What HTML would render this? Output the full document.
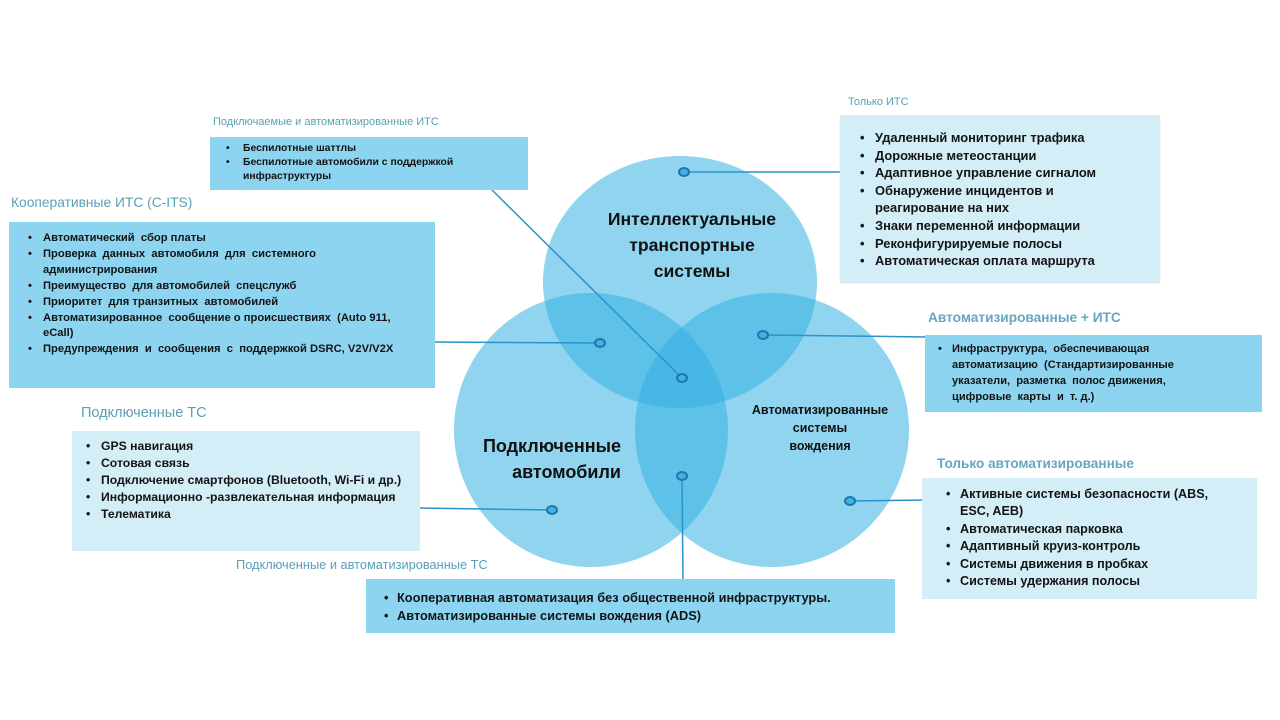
<!DOCTYPE html>
<html><head><meta charset="utf-8">
<style>
html,body{margin:0;padding:0;background:#fff;}
body{width:1280px;height:720px;position:relative;overflow:hidden;font-family:"Liberation Sans","Noto Sans CJK SC",sans-serif;color:#111;}
.box{position:absolute;}
.dark{background:#8dd4f0;}
.light{background:#d4eef8;}
.list{position:absolute;font-weight:bold;color:#141414;}
.li{position:relative;white-space:nowrap;}
.b{position:absolute;left:0;}
.t{position:absolute;white-space:nowrap;color:#5a9fb6;}
.lbl{position:absolute;font-weight:bold;color:#111;white-space:nowrap;}
svg{position:absolute;left:0;top:0;}
</style></head><body>
<svg width="1280" height="720">
  <g fill="rgb(53,177,226)" fill-opacity="0.55">
    <ellipse cx="680" cy="282" rx="137" ry="126"/>
    <circle cx="591" cy="430" r="137"/>
    <circle cx="772" cy="430" r="137"/>
  </g>
  <g stroke="#2a93c9" stroke-width="1.5" fill="none">
    <line x1="684" y1="172" x2="842" y2="172"/>
    <line x1="600" y1="343" x2="433" y2="342"/>
    <line x1="682" y1="378" x2="492" y2="190"/>
    <line x1="763" y1="335" x2="927" y2="337"/>
    <line x1="682" y1="476" x2="683" y2="580"/>
    <line x1="552" y1="510" x2="418" y2="508"/>
    <line x1="850" y1="501" x2="924" y2="500"/>
  </g>
  <g fill="#45b0e2" stroke="#1b78ad" stroke-width="2">
    <ellipse cx="684" cy="172" rx="5" ry="4"/>
    <ellipse cx="600" cy="343" rx="5" ry="4"/>
    <ellipse cx="682" cy="378" rx="5" ry="4"/>
    <ellipse cx="763" cy="335" rx="5" ry="4"/>
    <ellipse cx="682" cy="476" rx="5" ry="4"/>
    <ellipse cx="552" cy="510" rx="5" ry="4"/>
    <ellipse cx="850" cy="501" rx="5" ry="4"/>
  </g>
</svg>

<!-- boxes -->
<div class="box dark" style="left:210px;top:137px;width:318px;height:53px;"></div>
<div class="box dark" style="left:9px;top:222px;width:426px;height:166px;"></div>
<div class="box light" style="left:840px;top:115px;width:320px;height:167px;box-shadow:0 1px 1px #c9dbe2;"></div>
<div class="box dark" style="left:925px;top:335px;width:337px;height:77px;"></div>
<div class="box light" style="left:72px;top:431px;width:348px;height:120px;"></div>
<div class="box light" style="left:922px;top:478px;width:335px;height:121px;"></div>
<div class="box dark" style="left:366px;top:579px;width:529px;height:54px;"></div>

<!-- titles -->
<div class="t" style="left:213px;top:116px;font-size:11px;">Подключаемые и автоматизированные ИТС</div>
<div class="t" style="left:11px;top:195px;font-size:13.8px;">Кооперативные ИТС (C-ITS)</div>
<div class="t" style="left:848px;top:96px;font-size:11px;">Только ИТС</div>
<div class="t" style="left:928px;top:310px;font-size:13.7px;font-weight:bold;color:#66a6c0;">Автоматизированные + ИТС</div>
<div class="t" style="left:81px;top:405px;font-size:14.5px;">Подключенные ТС</div>
<div class="t" style="left:937px;top:456px;font-size:13.6px;font-weight:bold;color:#66a6c0;">Только автоматизированные</div>
<div class="t" style="left:236px;top:557px;font-size:12.8px;">Подключенные и автоматизированные ТС</div>

<!-- lists -->
<div class="list" style="left:226px;top:142px;font-size:10.4px;line-height:14px;">
  <div class="li" style="padding-left:17px"><span class="b">•</span>Беспилотные шаттлы</div>
  <div class="li" style="padding-left:17px"><span class="b">•</span>Беспилотные автомобили с поддержкой<br>инфраструктуры</div>
</div>

<div class="list" style="left:28px;top:231px;font-size:11.2px;line-height:15.9px;">
  <div class="li" style="padding-left:15px"><span class="b">•</span>Автоматический&nbsp; сбор платы</div>
  <div class="li" style="padding-left:15px"><span class="b">•</span>Проверка&nbsp; данных&nbsp; автомобиля&nbsp; для&nbsp; системного<br>администрирования</div>
  <div class="li" style="padding-left:15px"><span class="b">•</span>Преимущество&nbsp; для автомобилей&nbsp; спецслужб</div>
  <div class="li" style="padding-left:15px"><span class="b">•</span>Приоритет&nbsp; для транзитных&nbsp; автомобилей</div>
  <div class="li" style="padding-left:15px"><span class="b">•</span>Автоматизированное&nbsp; сообщение о происшествиях&nbsp; (Auto 911,<br>eCall)</div>
  <div class="li" style="padding-left:15px"><span class="b">•</span>Предупреждения&nbsp; и&nbsp; сообщения&nbsp; с&nbsp; поддержкой DSRC, V2V/V2X</div>
</div>

<div class="list" style="left:860px;top:129px;font-size:12.9px;line-height:17.6px;">
  <div class="li" style="padding-left:15px"><span class="b">•</span>Удаленный мониторинг трафика</div>
  <div class="li" style="padding-left:15px"><span class="b">•</span>Дорожные метеостанции</div>
  <div class="li" style="padding-left:15px"><span class="b">•</span>Адаптивное управление сигналом</div>
  <div class="li" style="padding-left:15px"><span class="b">•</span>Обнаружение инцидентов и<br>реагирование на них</div>
  <div class="li" style="padding-left:15px"><span class="b">•</span>Знаки переменной информации</div>
  <div class="li" style="padding-left:15px"><span class="b">•</span>Реконфигурируемые полосы</div>
  <div class="li" style="padding-left:15px"><span class="b">•</span>Автоматическая оплата маршрута</div>
</div>

<div class="list" style="left:938px;top:341px;font-size:11.1px;line-height:16px;">
  <div class="li" style="padding-left:14px"><span class="b">•</span>Инфраструктура,&nbsp; обеспечивающая<br>автоматизацию&nbsp; (Стандартизированные<br>указатели,&nbsp; разметка&nbsp; полос движения,<br>цифровые&nbsp; карты&nbsp; и&nbsp; т. д.)</div>
</div>

<div class="list" style="left:86px;top:438px;font-size:12.2px;line-height:17px;">
  <div class="li" style="padding-left:15px"><span class="b">•</span>GPS навигация</div>
  <div class="li" style="padding-left:15px"><span class="b">•</span>Сотовая связь</div>
  <div class="li" style="padding-left:15px"><span class="b">•</span>Подключение смартфонов (Bluetooth, Wi-Fi и др.)</div>
  <div class="li" style="padding-left:15px"><span class="b">•</span>Информационно -развлекательная информация</div>
  <div class="li" style="padding-left:15px"><span class="b">•</span>Телематика</div>
</div>

<div class="list" style="left:946px;top:486px;font-size:12.6px;line-height:17.4px;">
  <div class="li" style="padding-left:14px"><span class="b">•</span>Активные системы безопасности (ABS,<br>ESC, AEB)</div>
  <div class="li" style="padding-left:14px"><span class="b">•</span>Автоматическая парковка</div>
  <div class="li" style="padding-left:14px"><span class="b">•</span>Адаптивный круиз-контроль</div>
  <div class="li" style="padding-left:14px"><span class="b">•</span>Системы движения в пробках</div>
  <div class="li" style="padding-left:14px"><span class="b">•</span>Системы удержания полосы</div>
</div>

<div class="list" style="left:384px;top:589px;font-size:12.8px;line-height:18px;">
  <div class="li" style="padding-left:13px"><span class="b">•</span>Кооперативная автоматизация без общественной инфраструктуры.</div>
  <div class="li" style="padding-left:13px"><span class="b">•</span>Автоматизированные системы вождения (ADS)</div>
</div>

<!-- circle labels -->
<div class="lbl" style="left:592px;top:206px;width:200px;text-align:center;font-size:17.6px;line-height:26px;">Интеллектуальные<br>транспортные<br>системы</div>
<div class="lbl" style="left:421px;top:433px;width:200px;text-align:right;font-size:18px;line-height:26px;">Подключенные<br>автомобили</div>
<div class="lbl" style="left:720px;top:401px;width:200px;text-align:center;font-size:12.5px;line-height:18px;">Автоматизированные<br>системы<br>вождения</div>
</body></html>
